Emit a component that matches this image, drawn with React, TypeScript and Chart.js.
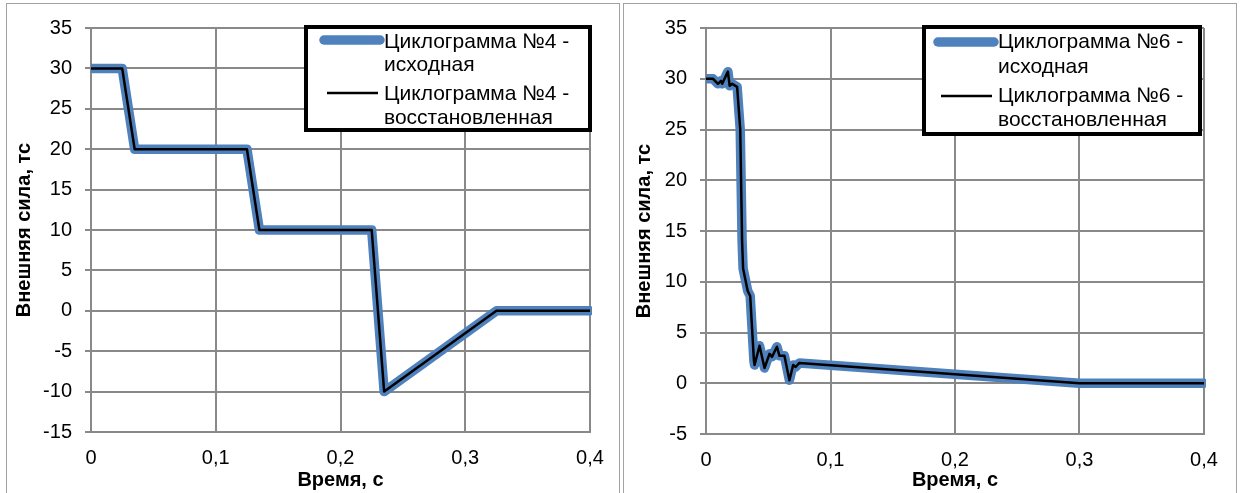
import React, { useEffect, useRef } from 'react';
import { Chart, registerables } from 'chart.js';

Chart.register(...registerables);

// Axis tick values
const timeTicks = [0, 0.1, 0.2, 0.3, 0.4];
const forceTicks4 = [-15, -10, -5, 0, 5, 10, 15, 20, 25, 30, 35];
const forceTicks6 = [-5, 0, 5, 10, 15, 20, 25, 30, 35];

// Cyclogram No.4: time, s and external force, tf
const cycle4Time = [0, 0.025, 0.035, 0.125, 0.135, 0.225, 0.235, 0.325, 0.4];
const cycle4Source = [30, 30, 20, 20, 10, 10, -10, 0, 0];
const cycle4Restored = [30, 30, 20, 20, 10, 10, -10, 0, 0];

// Cyclogram No.6: time, s and external force, tf
const cycle6Time = [
  0, 0.0056, 0.0096, 0.012, 0.013, 0.0176, 0.019, 0.021, 0.025, 0.0275, 0.029,
  0.0298, 0.0335, 0.0355, 0.0385, 0.039, 0.043, 0.047, 0.051, 0.053, 0.057,
  0.059, 0.063, 0.067, 0.07, 0.072, 0.075, 0.3, 0.4,
];
const cycle6Source = [
  30, 30, 29.5, 29.8, 29.5, 30.7, 29.3, 29.5, 29.2, 25, 14,
  11.3, 9.1, 8.6, 2.2, 1.8, 3.7, 1.5, 2.9, 2.6, 3.6,
  2.7, 2.7, 0.3, 1.8, 1.6, 2.0, 0, 0,
];
const cycle6Restored = [
  30, 30, 29.5, 29.8, 29.5, 30.7, 29.3, 29.5, 29.2, 25, 14,
  11.3, 9.1, 8.6, 2.2, 1.8, 3.7, 1.5, 2.9, 2.6, 3.6,
  2.7, 2.7, 0.3, 1.8, 1.6, 2.0, 0, 0,
];

const legend4 = ['Циклограмма №4 -', 'исходная', 'Циклограмма №4 -', 'восстановленная'];
const legend6 = ['Циклограмма №6 -', 'исходная', 'Циклограмма №6 -', 'восстановленная'];

const xTitle = 'Время, с';
const yTitle = 'Внешняя сила, тс';

const FONT = '"Liberation Sans", Arial, sans-serif';
const BLUE = '#4f81bd';
const GRID = '#898989';

type LegendLayout = {
  box: [number, number, number, number];
  textX: number;
  lineY: number[];
  blueSample: [number, number, number];
  blackSample: [number, number, number];
};

function boxLegend(lines: string[], lay: LegendLayout) {
  return {
    id: 'boxLegend',
    afterDraw(chart: Chart) {
      const ctx = chart.ctx;
      ctx.save();
      const [bx, by, bw, bh] = lay.box;
      ctx.fillStyle = '#ffffff';
      ctx.fillRect(bx, by, bw, bh);
      ctx.lineWidth = 4;
      ctx.strokeStyle = '#000000';
      ctx.strokeRect(bx + 2, by + 2, bw - 4, bh - 4);

      ctx.lineCap = 'round';
      ctx.strokeStyle = BLUE;
      ctx.lineWidth = 9.5;
      ctx.beginPath();
      ctx.moveTo(lay.blueSample[0], lay.blueSample[2]);
      ctx.lineTo(lay.blueSample[1], lay.blueSample[2]);
      ctx.stroke();

      ctx.lineCap = 'butt';
      ctx.strokeStyle = '#000000';
      ctx.lineWidth = 2.5;
      ctx.beginPath();
      ctx.moveTo(lay.blackSample[0], lay.blackSample[2]);
      ctx.lineTo(lay.blackSample[1], lay.blackSample[2]);
      ctx.stroke();

      ctx.fillStyle = '#000000';
      ctx.font = `21px ${FONT}`;
      ctx.textBaseline = 'middle';
      ctx.textAlign = 'left';
      lines.forEach((t, i) => ctx.fillText(t, lay.textX, lay.lineY[i]));
      ctx.restore();
    },
  };
}

const fmtTime = (v: number) => (v === 0 ? '0' : v.toFixed(1).replace('.', ','));

function makeConfig(
  time: number[],
  source: number[],
  restored: number[],
  yTicks: number[],
  lines: string[],
  lay: LegendLayout,
  geom: { yWidth: number; xHeight: number; padRight: number; padTop: number; yTitlePad: number }
): any {
  return {
    type: 'line',
    data: {
      datasets: [
        {
          label: lines[0] + ' ' + lines[1],
          data: time.map((t, i) => ({ x: t, y: source[i] })),
          borderColor: BLUE,
          borderWidth: 9.5,
          borderCapStyle: 'round',
          borderJoinStyle: 'round',
          pointRadius: 0,
          tension: 0,
          order: 2,
          clip: { left: 0, right: 2, top: 10, bottom: 10 },
        },
        {
          label: lines[2] + ' ' + lines[3],
          data: time.map((t, i) => ({ x: t, y: restored[i] })),
          borderColor: '#000000',
          borderWidth: 2.5,
          borderJoinStyle: 'round',
          pointRadius: 0,
          tension: 0,
          order: 1,
          clip: { left: 0, right: 0, top: 10, bottom: 10 },
        },
      ],
    },
    options: {
      responsive: false,
      animation: false,
      events: [],
      layout: { padding: { left: 0, right: geom.padRight, top: geom.padTop, bottom: 0 } },
      plugins: { legend: { display: false }, tooltip: { enabled: false } },
      scales: {
        x: {
          type: 'linear',
          min: timeTicks[0],
          max: timeTicks[timeTicks.length - 1],
          afterBuildTicks: (s: any) => {
            s.ticks = timeTicks.map((v) => ({ value: v }));
          },
          afterFit: (s: any) => {
            s.height = geom.xHeight;
          },
          grid: { color: GRID, lineWidth: 2, drawTicks: false },
          border: { color: GRID, width: 2 },
          ticks: {
            padding: 14,
            color: '#000',
            font: { size: 20, family: FONT },
            maxRotation: 0,
            autoSkip: false,
            callback: (v: number) => fmtTime(v),
          },
          title: {
            display: true,
            text: xTitle,
            color: '#000',
            font: { size: 20, weight: 'bold', family: FONT },
            padding: { top: 0, bottom: 1 },
          },
        },
        y: {
          type: 'linear',
          min: yTicks[0],
          max: yTicks[yTicks.length - 1],
          afterBuildTicks: (s: any) => {
            s.ticks = yTicks.map((v) => ({ value: v }));
          },
          afterFit: (s: any) => {
            s.width = geom.yWidth;
          },
          grid: { color: GRID, lineWidth: 2, tickLength: 6, tickColor: GRID },
          border: { color: GRID, width: 2 },
          ticks: {
            padding: 13,
            color: '#000',
            font: { size: 20, family: FONT },
            autoSkip: false,
            callback: (v: number) => String(v),
          },
          title: {
            display: true,
            text: yTitle,
            color: '#000',
            font: { size: 20, weight: 'bold', family: FONT },
            padding: { top: geom.yTitlePad, bottom: 0 },
          },
        },
      },
    },
    plugins: [boxLegend(lines, lay)],
  };
}

function Panel(props: { left: number; config: any }) {
  const ref = useRef<HTMLCanvasElement>(null);
  useEffect(() => {
    if (!ref.current) return;
    const chart = new Chart(ref.current, props.config);
    return () => chart.destroy();
  }, []);
  return (
    <>
      <canvas
        ref={ref}
        width={614}
        height={490}
        style={{ position: 'absolute', left: props.left, top: 3, width: 614, height: 490 }}
      />
      <div
        style={{
          position: 'absolute',
          left: props.left,
          top: 3,
          width: 614,
          height: 500,
          boxSizing: 'border-box',
          border: '1.5px solid #a3a3a3',
          pointerEvents: 'none',
        }}
      />
    </>
  );
}

export default function App() {
  const leftConfig = makeConfig(
    cycle4Time,
    cycle4Source,
    cycle4Restored,
    forceTicks4,
    legend4,
    {
      box: [298, 22, 288, 107],
      textX: 378,
      lineY: [39, 62, 91, 115],
      blueSample: [318, 374, 37],
      blackSample: [321, 372, 90],
    },
    { yWidth: 85, xHeight: 61, padRight: 30, padTop: 24, yTitlePad: 6 }
  );
  const rightConfig = makeConfig(
    cycle6Time,
    cycle6Source,
    cycle6Restored,
    forceTicks6,
    legend6,
    {
      box: [299, 22, 280, 111],
      textX: 375,
      lineY: [39, 64, 93, 117],
      blueSample: [315, 371, 39],
      blackSample: [318, 369, 93],
    },
    { yWidth: 83, xHeight: 59, padRight: 33, padTop: 24, yTitlePad: 9 }
  );
  return (
    <div
      style={{
        position: 'fixed',
        left: 0,
        top: 0,
        width: 1240,
        height: 493,
        background: '#ffffff',
        overflow: 'hidden',
      }}
    >
      <Panel left={6} config={leftConfig} />
      <Panel left={623} config={rightConfig} />
    </div>
  );
}
